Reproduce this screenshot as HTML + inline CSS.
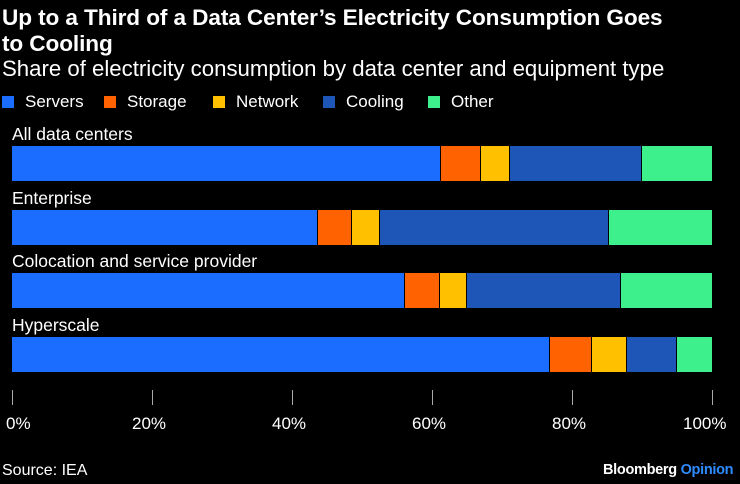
<!DOCTYPE html>
<html><head><meta charset="utf-8"><style>
body{margin:0;background:#000;width:740px;height:484px;overflow:hidden;font-family:"Liberation Sans",sans-serif;color:#fff;position:relative}
.a{position:absolute;white-space:nowrap}
.t{font-weight:bold;font-size:22.6px;line-height:26px;left:2px;top:5px;letter-spacing:-0.1px}
.s{font-size:22.2px;left:2px;top:56px}
.lg{top:92px;font-size:17px}
.sq{display:inline-block;width:12px;height:12px;vertical-align:-1px;margin-right:11px}
.lb{font-size:17.5px;left:12px}
.seg{position:absolute;height:35px}
.tk{position:absolute;top:390px;width:1px;height:15px;background:#aaa}
.tl{font-size:17px;top:414px}
</style></head><body>
<div class="a t">Up to a Third of a Data Center’s Electricity Consumption Goes<br>to Cooling</div>
<div class="a s">Share of electricity consumption by data center and equipment type</div>
<div class="a lg" style="left:2px"><span class="sq" style="background:#1a6dff"></span>Servers</div>
<div class="a lg" style="left:104px"><span class="sq" style="background:#ff6200"></span>Storage</div>
<div class="a lg" style="left:213px"><span class="sq" style="background:#ffc000"></span>Network</div>
<div class="a lg" style="left:323px"><span class="sq" style="background:#1e56b8"></span>Cooling</div>
<div class="a lg" style="left:428px"><span class="sq" style="background:#3df08c"></span>Other</div>
<div id="bars"></div>
<div class="a lb" style="top:124px">All data centers</div>
<div class="a lb" style="top:188px">Enterprise</div>
<div class="a lb" style="top:251px">Colocation and service provider</div>
<div class="a lb" style="top:315px">Hyperscale</div>
<div class="tk" style="left:12px"></div><div class="tk" style="left:152px"></div><div class="tk" style="left:292px"></div><div class="tk" style="left:432px"></div><div class="tk" style="left:572px"></div><div class="tk" style="left:712px"></div>
<div class="a tl" style="left:6px">0%</div>
<div class="a tl" style="left:132px">20%</div>
<div class="a tl" style="left:272px">40%</div>
<div class="a tl" style="left:412px">60%</div>
<div class="a tl" style="left:552px">80%</div>
<div class="a tl" style="left:683px">100%</div>
<div class="a" style="left:2px;top:462px;font-size:16px">Source: IEA</div>
<div class="a" style="left:603px;top:462px;font-size:14.5px;font-weight:bold;letter-spacing:-0.3px">Bloomberg <span style="color:#2f8cff">Opinion</span></div>
<script>
var c=["#1a6dff","#ff6200","#ffc000","#1e56b8","#3df08c"];
var rows=[[146,[441,481,510,642,712]],[210,[318,352,380,609,712]],[273,[405,440,467,621,712]],[337,[550,592,627,677,712]]];
var h="";rows.forEach(function(r){var x=12;r[1].forEach(function(e,i){h+='<div class="seg" style="top:'+r[0]+'px;left:'+x+'px;width:'+(e-x-(i<4?1:0))+'px;background:'+c[i]+'"></div>';x=e;});});
document.getElementById("bars").innerHTML=h;
</script>
</body></html>
